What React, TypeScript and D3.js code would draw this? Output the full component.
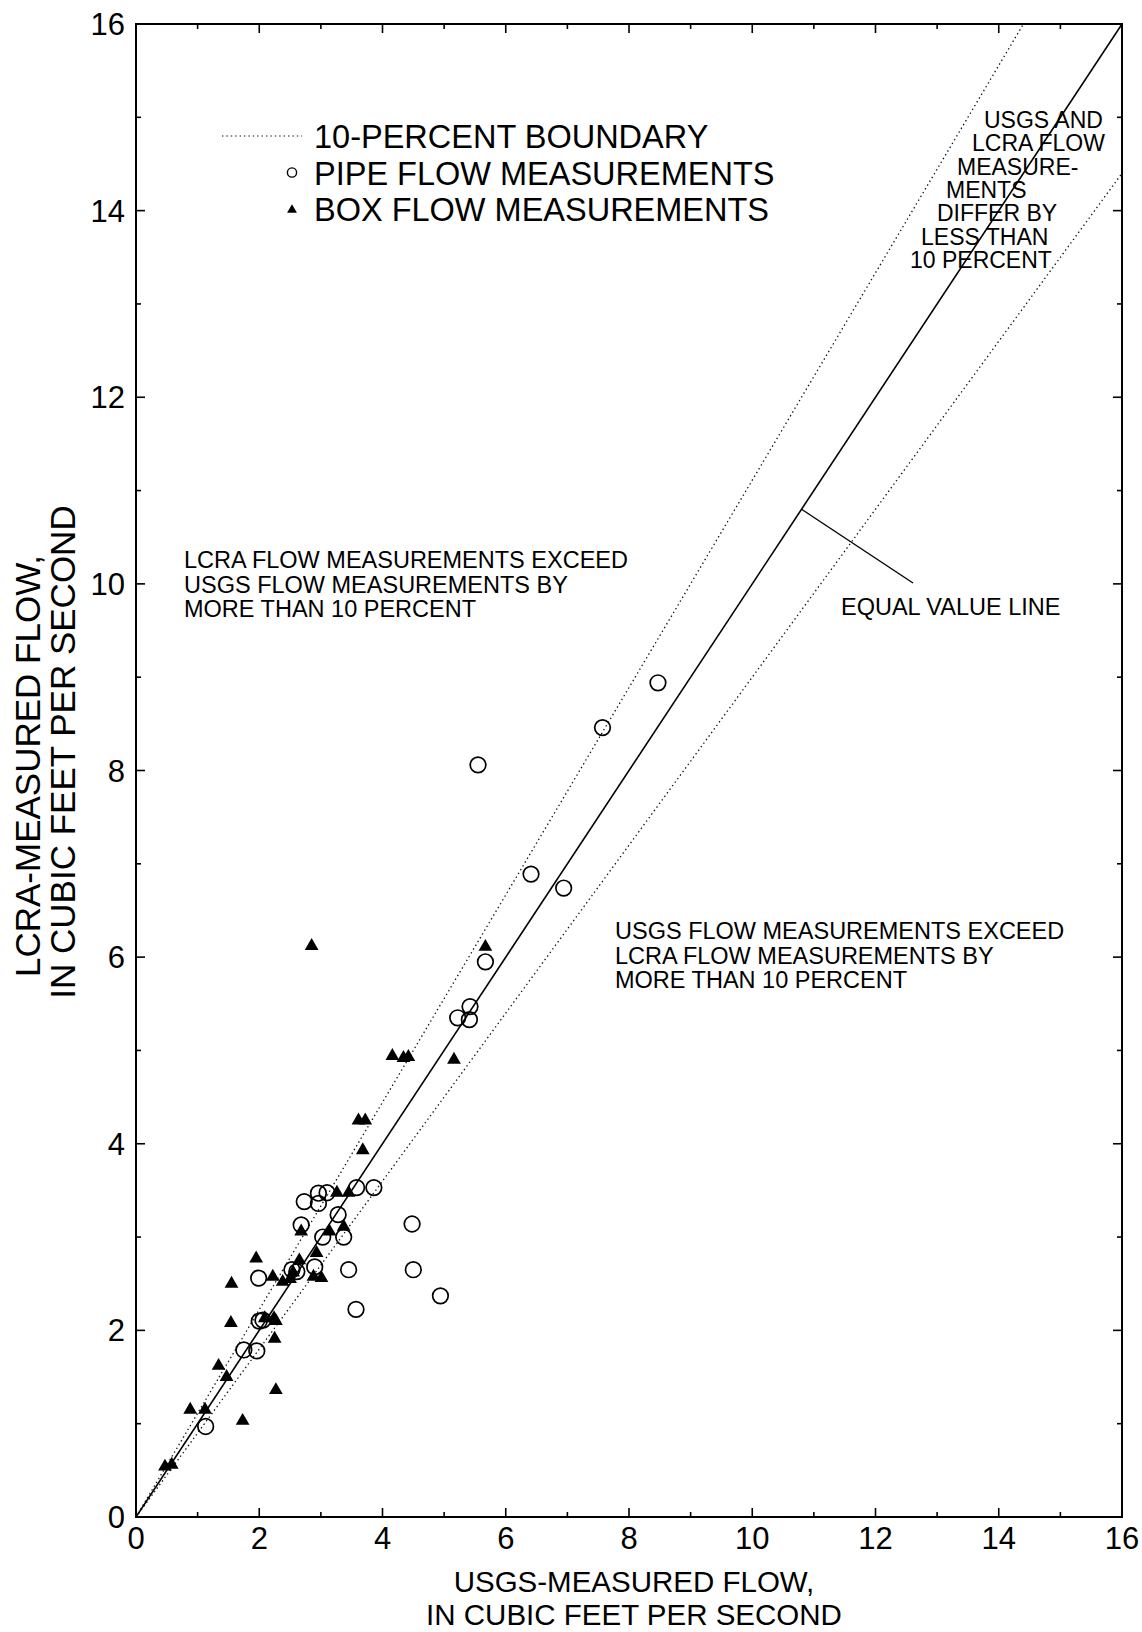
import React from "react";
import * as d3 from "d3";

// USGS-measured (x) vs LCRA-measured (y) flow, cubic feet per second
const pipeUsgs = [1.13, 1.75, 1.96, 2.0, 2.06, 1.99, 2.53, 2.61, 2.9, 2.68, 2.73, 2.96, 3.1, 2.96, 3.03, 3.37, 3.28, 3.58, 3.86, 3.45, 4.48, 4.5, 4.94, 3.57, 5.22, 5.41, 5.42, 5.67, 6.41, 6.94, 5.55, 7.57, 8.47];
const pipeLcra = [0.97, 1.79, 1.78, 2.1, 2.11, 2.56, 2.65, 2.63, 2.68, 3.13, 3.38, 3.47, 3.475, 3.36, 3.0, 3.0, 3.24, 3.53, 3.53, 2.65, 3.14, 2.65, 2.37, 2.225, 5.35, 5.33, 5.47, 5.95, 6.89, 6.74, 8.06, 8.46, 8.94];
const boxUsgs = [0.47, 0.58, 0.88, 1.12, 1.73, 1.34, 1.47, 2.27, 2.25, 1.54, 2.09, 2.24, 2.27, 1.55, 1.95, 2.22, 2.38, 2.5, 2.55, 2.65, 2.88, 3.01, 2.93, 2.68, 3.14, 3.37, 3.26, 3.45, 3.68, 3.61, 3.72, 4.16, 4.34, 4.42, 5.16, 5.67, 2.85];
const boxLcra = [0.54, 0.56, 1.15, 1.15, 1.03, 1.62, 1.5, 1.36, 1.91, 2.08, 2.13, 2.13, 2.1, 2.5, 2.77, 2.575, 2.52, 2.55, 2.62, 2.75, 2.575, 2.56, 2.83, 3.06, 3.06, 3.11, 3.475, 3.475, 3.93, 4.25, 4.25, 4.94, 4.92, 4.93, 4.9, 6.11, 6.12];
const tickValues = [0, 2, 4, 6, 8, 10, 12, 14, 16];
const minorTickValues = [1, 3, 5, 7, 9, 11, 13, 15];
const equalLine = [0, 16];
const upperFactor = 1 / 0.9;
const lowerFactor = 0.9;

const W = 1142;
const H = 1632;
const L = 136;
const R = 1122;
const T = 24;
const B = 1517;
const FONT = "'Liberation Sans', Arial, Helvetica, sans-serif";

export default function App() {
  const x = d3.scaleLinear().domain([0, 16]).range([L, R]);
  const y = d3.scaleLinear().domain([0, 16]).range([B, T]);
  const line = d3.line<[number, number]>().x((d) => x(d[0])).y((d) => y(d[1]));

  const eq: [number, number][] = equalLine.map((v) => [v, v] as [number, number]);
  const upper: [number, number][] = [[0, 0], [16 / upperFactor, 16]];
  const lower: [number, number][] = [[0, 0], [16, 16 * lowerFactor]];

  const tri = d3.symbol().type(d3.symbolTriangle).size(82)();
  const triSmall = d3.symbol().type(d3.symbolTriangle).size(42)();

  const ticks: JSX.Element[] = [];
  const all = [...tickValues.map((v) => [v, 9]), ...minorTickValues.map((v) => [v, 5])];
  all.forEach(([v, len], i) => {
    ticks.push(<line key={"b" + i} x1={x(v)} x2={x(v)} y1={B} y2={B - len} />);
    ticks.push(<line key={"t" + i} x1={x(v)} x2={x(v)} y1={T} y2={T + len} />);
    ticks.push(<line key={"l" + i} x1={L} x2={L + len} y1={y(v)} y2={y(v)} />);
    ticks.push(<line key={"r" + i} x1={R} x2={R - len} y1={y(v)} y2={y(v)} />);
  });

  const blockLines = ["USGS AND", "LCRA FLOW", "MEASURE-", "MENTS", "DIFFER BY", "LESS THAN", "10 PERCENT"];
  const blockX = [984, 972, 957, 946, 937, 921, 910];

  const leaderStart = 10.8;

  return (
    <svg
      width={W}
      height={H}
      style={{ position: "absolute", left: 0, top: 0, background: "#fff" }}
      fontFamily={FONT}
    >
      <rect x={0} y={0} width={W} height={H} fill="#fff" />
      <defs>
        <clipPath id="plot">
          <rect x={L} y={T} width={R - L} height={B - T} />
        </clipPath>
      </defs>

      <g clipPath="url(#plot)" fill="none">
        <path d={line(upper) || ""} stroke="#111" strokeWidth={1.3} strokeDasharray="1.4 3" />
        <path d={line(lower) || ""} stroke="#111" strokeWidth={1.3} strokeDasharray="1.4 3" />
        <path d={line(eq) || ""} stroke="#000" strokeWidth={1.6} />
      </g>

      {/* leader for equal value line */}
      <line x1={x(leaderStart)} y1={y(leaderStart)} x2={913} y2={583} stroke="#000" strokeWidth={1.4} />

      {/* data */}
      <g fill="none" stroke="#000" strokeWidth={1.7}>
        {pipeUsgs.map((v, i) => (
          <circle key={"p" + i} cx={x(v)} cy={y(pipeLcra[i])} r={7.8} />
        ))}
      </g>
      <g fill="#000">
        {boxUsgs.map((v, i) => (
          <path key={"bx" + i} d={tri || ""} transform={`translate(${x(v)},${y(boxLcra[i])})`} />
        ))}
      </g>

      {/* frame & ticks */}
      <rect x={L} y={T} width={R - L} height={B - T} fill="none" stroke="#000" strokeWidth={2} />
      <g stroke="#000" strokeWidth={1.6}>{ticks}</g>

      {/* tick labels */}
      <g fontSize={31} fill="#000">
        {tickValues.map((v) => (
          <text key={"xl" + v} x={x(v)} y={1549} textAnchor="middle">
            {v}
          </text>
        ))}
        {tickValues.map((v) => (
          <text key={"yl" + v} x={125} y={y(v) + 11} textAnchor="end">
            {v}
          </text>
        ))}
      </g>

      {/* axis titles */}
      <g fontSize={29.5} fill="#000" textAnchor="middle">
        <text x={634} y={1592}>USGS-MEASURED FLOW,</text>
        <text x={634} y={1625}>IN CUBIC FEET PER SECOND</text>
      </g>
      <g fontSize={35} fill="#000" textAnchor="middle">
        <text transform="translate(40,766) rotate(-90)">LCRA-MEASURED FLOW,</text>
        <text transform="translate(75,752) rotate(-90)">IN CUBIC FEET PER SECOND</text>
      </g>

      {/* legend */}
      <line x1={222} x2={302} y1={136} y2={136} stroke="#111" strokeWidth={1.2} strokeDasharray="1.4 3" />
      <circle cx={292} cy={172.5} r={4.6} fill="none" stroke="#000" strokeWidth={1.4} />
      <path d={triSmall || ""} transform="translate(292,210)" fill="#000" />
      <g fontSize={32.5} fill="#000">
        <text x={314} y={148}>10-PERCENT BOUNDARY</text>
        <text x={314} y={184.5}>PIPE FLOW MEASUREMENTS</text>
        <text x={314} y={221}>BOX FLOW MEASUREMENTS</text>
      </g>

      {/* annotations */}
      <g fontSize={23.5} fill="#000">
        <text x={184} y={568}>LCRA FLOW MEASUREMENTS EXCEED</text>
        <text x={184} y={592.5}>USGS FLOW MEASUREMENTS BY</text>
        <text x={184} y={617}>MORE THAN 10 PERCENT</text>

        <text x={615} y={939}>USGS FLOW MEASUREMENTS EXCEED</text>
        <text x={615} y={963.5}>LCRA FLOW MEASUREMENTS BY</text>
        <text x={615} y={988}>MORE THAN 10 PERCENT</text>

        <text x={841} y={615}>EQUAL VALUE LINE</text>
      </g>
      <g fontSize={23} fill="#000">
        {blockLines.map((s, i) => (
          <text key={"bl" + i} x={blockX[i]} y={128 + i * 23.3}>
            {s}
          </text>
        ))}
      </g>
    </svg>
  );
}
